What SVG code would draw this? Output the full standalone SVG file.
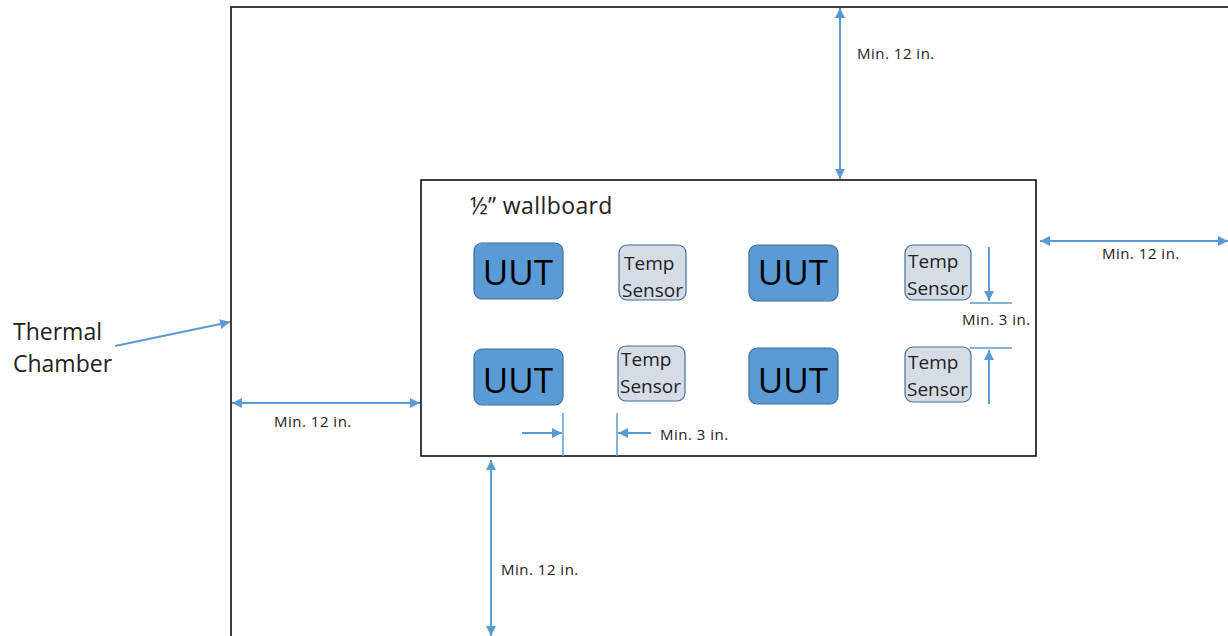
<svg xmlns="http://www.w3.org/2000/svg" width="1228" height="636" viewBox="0 0 1228 636">
<style>
.frame{fill:#fff;stroke:#000;stroke-width:1.5}
.uut{fill:#5B9BD5;stroke:#41719C;stroke-width:1.2}
.sen{fill:#D6DCE5;stroke:#41719C;stroke-width:1.2}
.dim{stroke:#5B9BD5;stroke-width:2;fill:none}
.tick{stroke:#5B9BD5;stroke-width:1.5;fill:none}
.lbl{font-family:"Open Sans","Liberation Sans",sans-serif;font-size:15px;letter-spacing:0.5px;fill:#222}
.big{font-family:"Open Sans","Liberation Sans",sans-serif;font-size:23px;fill:#222}
.uutt{font-family:"Open Sans","Liberation Sans",sans-serif;font-size:35px;fill:#000;text-anchor:middle}
.sent{font-family:"Open Sans","Liberation Sans",sans-serif;font-size:19px;fill:#222}
</style>
<defs>
<marker id="ah" viewBox="0 0 10 10" refX="10" refY="5" markerWidth="5" markerHeight="5" markerUnits="strokeWidth" orient="auto-start-reverse">
<path d="M0,0 L10,5 L0,10 z" fill="#5B9BD5"/>
</marker>
</defs>
<rect width="1228" height="636" fill="#fff"/>
<g id="chamber"><rect class="frame" x="231" y="7" width="1100" height="700"/></g>
<g id="wallboard"><rect class="frame" x="421" y="180" width="615" height="276"/>
<text class="big" x="470" y="214" letter-spacing="0.4">½” wallboard</text></g>
<g id="uut1"><rect class="uut" x="474" y="243" width="89" height="56" rx="8"/><text class="uutt" x="518" y="285">UUT</text></g>
<g id="uut2"><rect class="uut" x="749" y="245" width="89" height="56" rx="8"/><text class="uutt" x="793" y="285">UUT</text></g>
<g id="uut3"><rect class="uut" x="474" y="349" width="89" height="56" rx="8"/><text class="uutt" x="518" y="393">UUT</text></g>
<g id="uut4"><rect class="uut" x="749" y="348" width="89" height="56" rx="8"/><text class="uutt" x="793" y="393">UUT</text></g>
<g id="sensor1"><rect class="sen" x="619" y="245" width="67" height="55" rx="8"/><text class="sent" x="624" y="270">Temp</text><text class="sent" x="622" y="297">Sensor</text></g>
<g id="sensor2"><rect class="sen" x="905" y="245" width="66" height="55" rx="8"/><text class="sent" x="908" y="268">Temp</text><text class="sent" x="907" y="295">Sensor</text></g>
<g id="sensor3"><rect class="sen" x="618" y="346" width="67" height="55" rx="8"/><text class="sent" x="621" y="366">Temp</text><text class="sent" x="620" y="393">Sensor</text></g>
<g id="sensor4"><rect class="sen" x="905" y="347" width="66" height="55" rx="8"/><text class="sent" x="908" y="369">Temp</text><text class="sent" x="907" y="396">Sensor</text></g>
<g id="thermal-label"><text class="big" x="13" y="340">Thermal</text><text class="big" x="13" y="372">Chamber</text></g>
<g id="connectors">
<line class="dim" x1="115" y1="346" x2="230" y2="322" marker-end="url(#ah)"/>
<line class="dim" x1="840" y1="8" x2="840" y2="179" marker-start="url(#ah)" marker-end="url(#ah)"/>
<line class="dim" x1="1040" y1="241" x2="1228" y2="241" marker-start="url(#ah)" marker-end="url(#ah)"/>
<line class="dim" x1="232" y1="403" x2="420" y2="403" marker-start="url(#ah)" marker-end="url(#ah)"/>
<line class="dim" x1="491" y1="460" x2="491" y2="636" marker-start="url(#ah)" marker-end="url(#ah)"/>
<line class="tick" x1="970" y1="303" x2="1012" y2="303"/>
<line class="tick" x1="970" y1="348" x2="1012" y2="348"/>
<line class="dim" x1="989" y1="247" x2="989" y2="301" marker-end="url(#ah)"/>
<line class="dim" x1="989" y1="404" x2="989" y2="350" marker-end="url(#ah)"/>
<line class="tick" x1="563" y1="413" x2="563" y2="456"/>
<line class="tick" x1="617" y1="413" x2="617" y2="456"/>
<line class="dim" x1="522" y1="433" x2="562" y2="433" marker-end="url(#ah)"/>
<line class="dim" x1="651" y1="433" x2="618" y2="433" marker-end="url(#ah)"/>
</g>
<g id="labels">
<text class="lbl" x="857" y="59">Min. 12 in.</text>
<text class="lbl" x="1102" y="259">Min. 12 in.</text>
<text class="lbl" x="274" y="427">Min. 12 in.</text>
<text class="lbl" x="501" y="575">Min. 12 in.</text>
<text class="lbl" x="962" y="325">Min. 3 in.</text>
<text class="lbl" x="660" y="440">Min. 3 in.</text>
</g>
</svg>
